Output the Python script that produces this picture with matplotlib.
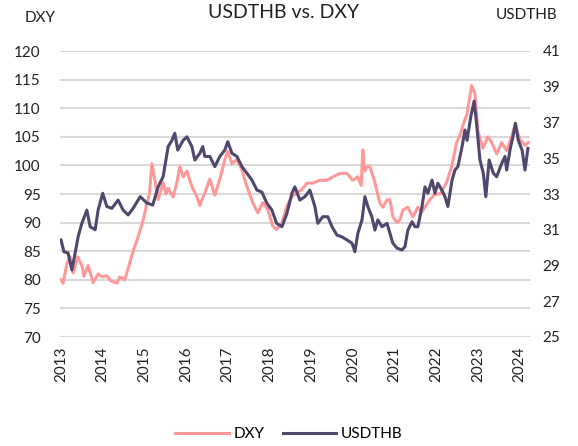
import numpy as np
import matplotlib.pyplot as plt

plt.rcParams['font.family'] = ['Lato', 'DejaVu Sans']

# DXY (left axis) as (fractional year, value)
dxy_t = [2013.00, 2013.05, 2013.14, 2013.22, 2013.29, 2013.40, 2013.50, 2013.55, 2013.65, 2013.77,
         2013.89, 2014.00, 2014.10, 2014.20, 2014.34, 2014.41, 2014.53, 2014.60, 2014.73, 2014.85,
         2014.97, 2015.06, 2015.12, 2015.18, 2015.25, 2015.33, 2015.45, 2015.52, 2015.57, 2015.69,
         2015.78, 2015.85, 2015.93, 2016.02, 2016.14, 2016.26, 2016.33, 2016.45, 2016.57, 2016.69,
         2016.81, 2016.93, 2017.00, 2017.10, 2017.22, 2017.34, 2017.46, 2017.60, 2017.72, 2017.84,
         2017.96, 2018.08, 2018.17, 2018.30, 2018.42, 2018.54, 2018.66, 2018.78, 2018.90, 2019.04,
         2019.21, 2019.38, 2019.52, 2019.69, 2019.86, 2020.00, 2020.12, 2020.20, 2020.24, 2020.28,
         2020.34, 2020.41, 2020.53, 2020.65, 2020.72, 2020.82, 2020.89, 2020.96, 2021.06, 2021.13,
         2021.20, 2021.32, 2021.44, 2021.56, 2021.65, 2021.73, 2021.85, 2021.97, 2022.09, 2022.25,
         2022.37, 2022.49, 2022.57, 2022.64, 2022.74, 2022.85, 2022.93, 2023.00, 2023.12, 2023.24,
         2023.33, 2023.45, 2023.57, 2023.69, 2023.81, 2023.89, 2024.01, 2024.13, 2024.21]
dxy_v = [80.0, 79.4, 82.8, 84.0, 81.2, 84.0, 82.5, 80.6, 82.5, 79.5,
         81.0, 80.5, 80.7, 79.8, 79.4, 80.5, 80.0, 81.7, 85.0, 87.5,
         90.4, 93.3, 95.0, 100.3, 97.5, 94.0, 97.0, 95.0, 96.0, 94.5,
         97.0, 99.8, 98.0, 99.0, 96.3, 94.5, 93.0, 95.2, 97.6, 94.8,
         97.6, 101.0, 102.5, 100.3, 101.0, 99.2, 96.3, 93.5, 91.7, 93.5,
         92.3, 89.4, 88.8, 89.9, 92.9, 94.6, 95.2, 95.8, 96.9, 96.9,
         97.4, 97.4, 98.0, 98.6, 98.6, 97.4, 98.0, 96.5, 102.7, 99.0,
         99.7, 99.8, 97.0, 93.4, 92.7, 94.0, 94.0, 91.0, 90.0, 90.5,
         92.2, 92.7, 91.0, 92.7, 91.8, 92.7, 94.0, 95.0, 95.0, 97.0,
         99.8, 104.0, 105.2, 107.0, 109.0, 114.0, 112.5, 106.0, 103.0, 105.0,
         104.0, 102.0, 104.0, 102.6, 105.0, 107.0, 104.5, 103.5, 104.0]

# USDTHB (right axis)
thb_t = [2013.00, 2013.07, 2013.17, 2013.26, 2013.34, 2013.41, 2013.50, 2013.62, 2013.70, 2013.82,
         2013.89, 2014.00, 2014.10, 2014.22, 2014.37, 2014.49, 2014.61, 2014.73, 2014.90, 2015.06,
         2015.20, 2015.33, 2015.45, 2015.57, 2015.66, 2015.73, 2015.80, 2015.93, 2016.02, 2016.14,
         2016.21, 2016.33, 2016.40, 2016.45, 2016.57, 2016.69, 2016.81, 2016.93, 2017.00, 2017.10,
         2017.22, 2017.34, 2017.46, 2017.58, 2017.70, 2017.82, 2017.94, 2018.06, 2018.17, 2018.30,
         2018.42, 2018.54, 2018.61, 2018.73, 2018.85, 2018.97, 2019.09, 2019.16, 2019.28, 2019.40,
         2019.50, 2019.62, 2019.74, 2019.86, 2019.98, 2020.05, 2020.12, 2020.22, 2020.29, 2020.36,
         2020.46, 2020.53, 2020.60, 2020.70, 2020.82, 2020.89, 2020.96, 2021.06, 2021.18, 2021.25,
         2021.32, 2021.42, 2021.49, 2021.56, 2021.66, 2021.73, 2021.80, 2021.90, 2021.97, 2022.04,
         2022.14, 2022.21, 2022.28, 2022.38, 2022.45, 2022.52, 2022.62, 2022.69, 2022.74, 2022.83,
         2022.91, 2022.97, 2023.05, 2023.13, 2023.19, 2023.27, 2023.37, 2023.45, 2023.57, 2023.65,
         2023.69, 2023.77, 2023.84, 2023.90, 2023.97, 2024.06, 2024.13, 2024.20]
thb_v = [30.43, 29.77, 29.70, 28.75, 29.70, 30.60, 31.36, 32.10, 31.17, 31.00,
         32.10, 33.04, 32.30, 32.20, 32.66, 32.10, 31.83, 32.20, 32.85, 32.50,
         32.38, 33.40, 33.97, 35.65, 36.00, 36.40, 35.46, 36.00, 36.20, 35.65,
         34.90, 35.28, 35.65, 35.10, 35.10, 34.53, 35.10, 35.46, 35.93, 35.28,
         35.10, 34.53, 34.16, 33.78, 33.22, 33.10, 32.48, 32.10, 31.36, 31.17,
         31.92, 33.04, 33.40, 32.66, 32.85, 33.22, 32.30, 31.36, 31.73, 31.73,
         31.17, 30.70, 30.60, 30.43, 30.25, 29.77, 30.80, 31.55, 32.85, 32.30,
         31.70, 30.98, 31.55, 31.17, 31.36, 30.80, 30.25, 29.97, 29.87, 30.05,
         30.98, 31.45, 31.17, 31.17, 32.30, 33.40, 33.04, 33.78, 33.04, 33.60,
         33.20, 32.85, 32.30, 33.78, 34.34, 34.53, 35.65, 36.58, 36.00, 37.33,
         38.20, 36.90, 34.90, 34.16, 32.85, 34.90, 34.16, 33.97, 34.70, 35.10,
         34.34, 35.46, 36.20, 36.96, 36.00, 35.46, 34.34, 35.55]

years = list(range(2013, 2025))

pink = '#ff9999'
dark = '#51476e'

fig = plt.figure(figsize=(5.78, 4.46), dpi=100)
ax = fig.add_axes([60/578, 1-337/446, 470/578, 286/446])
ax2 = ax.twinx()

l1, = ax.plot(dxy_t, dxy_v, color=pink, lw=2.2, label='DXY')
l2, = ax2.plot(thb_t, thb_v, color=dark, lw=2.2, label='USDTHB')

ax.set_xlim(2012.976, 2024.25)
ax.set_ylim(70, 120)
ax2.set_ylim(25, 41)
ax.set_yticks(np.arange(70, 121, 5))
ax2.set_yticks(np.arange(25, 42, 2))
ax.set_xticks(years)
ax.set_xticklabels([str(y) for y in years], rotation=90)

ax.set_axisbelow(True)
ax.yaxis.grid(True, color='#d9d9d9', lw=1.5)
for a in (ax, ax2):
    for s in a.spines.values():
        s.set_visible(False)
ax.tick_params(axis='both', length=0, labelsize=11, colors='#222222')
ax.tick_params(axis='y', pad=14)
ax.tick_params(axis='x', pad=7)
ax2.tick_params(axis='y', length=0, labelsize=11, colors='#222222', pad=9)

fig.text(284/578, 1-12/446, 'USDTHB vs. DXY', ha='center', va='center', fontsize=14, color='#222222')
fig.text(25/578, 1-18/446, 'DXY', ha='left', va='center', fontsize=11, color='#222222')
fig.text(557/578, 1-15/446, 'USDTHB', ha='right', va='center', fontsize=11, color='#222222')

fig.legend(handles=[l1, l2], loc='center', bbox_to_anchor=(0.5, 1-434/446), ncol=2,
           frameon=False, fontsize=11, handlelength=3.5, columnspacing=1.2, handletextpad=0.3)

fig.savefig('out.png', dpi=100)
